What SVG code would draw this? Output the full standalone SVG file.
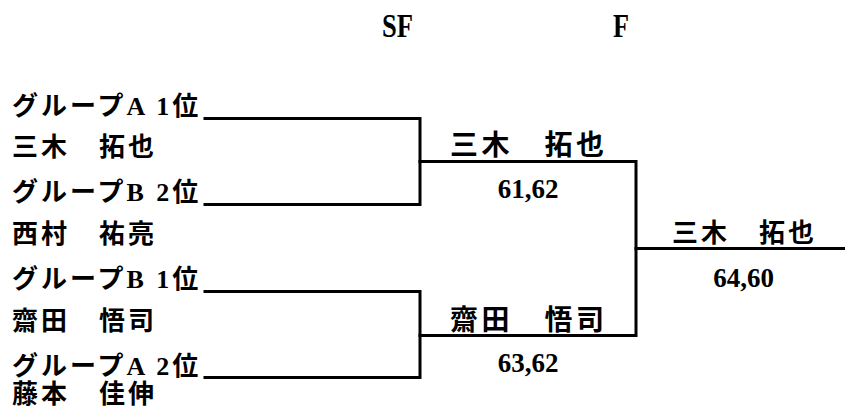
<svg xmlns="http://www.w3.org/2000/svg" width="845" height="410" viewBox="0 0 845 410">
<style>
  text { font-family: "Liberation Serif", "Noto Sans CJK JP", serif; font-weight: bold; fill: #000; }
  .lbl { font-size: 26px; letter-spacing: 3px; }
  .win { font-size: 28px; letter-spacing: 3.5px; }
  .fin { font-size: 26px; letter-spacing: 3px; }
  .score { font-size: 27px; text-anchor: middle; }
  .head { font-size: 33px; }
  .line { fill: none; stroke: #000; stroke-width: 3; stroke-linecap: square; }
</style>
<rect width="845" height="410" fill="#fff"/>
<g id="headers">
  <text class="head" x="382" y="37" textLength="31" lengthAdjust="spacingAndGlyphs">SF</text>
  <text class="head" x="613" y="37" textLength="16" lengthAdjust="spacingAndGlyphs">F</text>
</g>
<g id="connectors">
  <path class="line" d="M205,118.5 H420 V204.5 H205"/>
  <path class="line" d="M205,291.5 H420 V377.5 H205"/>
  <path class="line" d="M420,161.5 H636 V335.5 H420"/>
  <path class="line" d="M636,248.5 H845"/>
</g>
<g id="slot-a1"><text class="lbl" x="12" y="115">グループA 1位</text></g>
<g id="player-miki"><text class="lbl" x="12" y="156">三木　拓也</text></g>
<g id="slot-b2"><text class="lbl" x="12" y="201">グループB 2位</text></g>
<g id="player-nishimura"><text class="lbl" x="12" y="243">西村　祐亮</text></g>
<g id="slot-b1"><text class="lbl" x="12" y="288">グループB 1位</text></g>
<g id="player-saida"><text class="lbl" x="12" y="330">齋田　悟司</text></g>
<g id="slot-a2"><text class="lbl" x="12" y="375">グループA 2位</text></g>
<g id="player-fujimoto"><text class="lbl" x="12" y="403">藤本　佳伸</text></g>
<g id="sf1-winner">
  <text class="win" x="450" y="155">三木　拓也</text>
  <text class="score" x="528" y="198">61,62</text>
</g>
<g id="sf2-winner">
  <text class="win" x="450" y="330">齋田　悟司</text>
  <text class="score" x="528" y="372">63,62</text>
</g>
<g id="final-winner">
  <text class="fin" x="672" y="242">三木　拓也</text>
  <text class="score" x="743.5" y="287">64,60</text>
</g>
</svg>
